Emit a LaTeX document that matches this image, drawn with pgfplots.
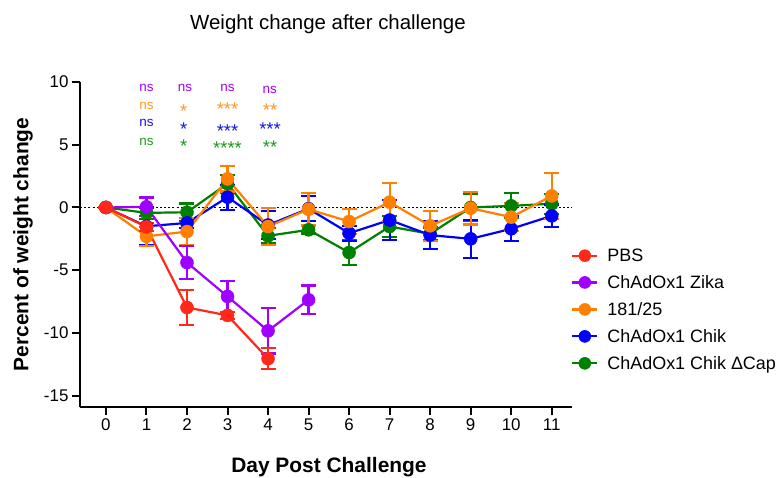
\documentclass[border=0pt]{standalone}
\usepackage{fontspec}
\setmainfont{Liberation Sans}
\usepackage{pgfplots}
\pgfplotsset{compat=1.18}
\usepackage{pgfplotstable}

\definecolor{cPBS}{RGB}{255,40,25}
\definecolor{cZika}{RGB}{160,0,255}
\definecolor{cOrg}{RGB}{255,128,0}
\definecolor{cChik}{RGB}{0,0,255}
\definecolor{cCap}{RGB}{0,128,0}
\definecolor{sOrg}{RGB}{255,150,30}
\definecolor{sGrn}{RGB}{30,150,30}
\definecolor{sBlu}{RGB}{20,20,230}

\pgfplotstableread{
x y e
0 0 0
1 -1.55 0.3
2 -7.97 1.4
3 -8.6 0.3
4 -12.05 0.85
}\pbs
\pgfplotstableread{
x y e
0 0 0
1 0.05 0.75
2 -4.39 1.3
3 -7.09 1.25
4 -9.83 1.8
5 -7.36 1.15
}\zika
\pgfplotstableread{
x y e
0 0 0
1 -2.3 0.75
2 -1.92 1.05
3 2.28 1.0
4 -1.52 1.45
5 -0.14 1.3
6 -1.12 1.0
7 0.42 1.5
8 -1.46 1.2
9 -0.06 1.3
10 -0.77 1.1
11 0.92 1.85
}\org
\pgfplotstableread{
x y e
0 0 0
1 -1.5 1.5
2 -1.23 0.4
3 0.82 1.0
4 -1.4 1.1
5 -0.1 1.0
6 -2.05 0.6
7 -1.0 1.6
8 -2.2 1.1
9 -2.5 1.5
10 -1.7 1.0
11 -0.67 0.9
}\chik
\pgfplotstableread{
x y e
0 0 0
1 -0.43 0.5
2 -0.38 0.7
3 1.9 0.7
4 -2.26 0.6
5 -1.78 0.3
6 -3.59 1.0
7 -1.52 0.85
8 -2.1 0.5
9 0.0 1.1
10 0.13 1.0
11 0.3 0.8
}\cap

\pgfplotsset{
  ser/.style={color=#1, line width=2.2bp, mark=*, mark size=6.5bp,
    mark options={solid, fill=#1, draw=#1, line width=0.5bp},
    error bars/.cd, y dir=both, y explicit,
    error bar style={line width=2.2bp, color=#1, solid},
    error mark options={rotate=90, mark size=7.5bp, line width=2.2bp, color=#1}},
}

\begin{document}
\begin{tikzpicture}
\path[use as bounding box] (-80bp,-71bp) rectangle (701bp,407bp);
\begin{axis}[
  at={(0,0)}, anchor=south west,
  scale only axis, width=492bp, height=325bp,
  xmin=-0.64, xmax=11.5, ymin=-15.9, ymax=10,
  axis x line=bottom, axis y line=left,
  axis line style={-, line width=2.5bp, black},
  xtick={0,...,11}, ytick={-15,-10,-5,0,5,10},
  tick align=outside, major tick length=8bp,
  tick style={black, line width=2bp},
  /pgf/number format/assume math mode=true,
  ticklabel style={font=\fontsize{17}{20}\selectfont},
  title={Weight change after challenge},
  title style={at={(axis description cs:0.504,1.158)}, anchor=center, font=\fontsize{20.5}{24}\selectfont},
  xlabel={Day Post Challenge},
  xlabel style={at={(axis description cs:0.506,-0.186)}, anchor=center, font=\bfseries\fontsize{21}{24}\selectfont},
  ylabel={Percent of weight change},
  ylabel style={at={(axis description cs:-0.116,0.5)}, anchor=center, font=\bfseries\fontsize{21}{24}\selectfont},
  clip=false,
  reverse legend,
  legend style={at={(axis description cs:0.992,0.50)}, anchor=north west, draw=none, fill=none,
    font=\fontsize{18}{21.6}\selectfont, row sep=8.5bp, column sep=0pt},
  legend cell align=left,
  legend image code/.code={
    \draw[mark repeat=2, mark phase=2, mark size=6bp] plot coordinates {(0bp,0bp) (12.5bp,0bp) (25bp,0bp)};
  },
]
\addplot[black, line width=1.8bp, dash pattern=on 2bp off 2.2bp, forget plot] coordinates {(-0.64,0) (11.5,0)};
\addplot[ser=cCap] table[x=x, y=y, y error=e] {\cap};
\addlegendentry{\hspace{7bp}ChAdOx1 Chik ΔCap}
\addplot[ser=cChik] table[x=x, y=y, y error=e] {\chik};
\addlegendentry{\hspace{7bp}ChAdOx1 Chik}
\addplot[ser=cOrg] table[x=x, y=y, y error=e] {\org};
\addlegendentry{\hspace{7bp}181/25}
\addplot[ser=cZika] table[x=x, y=y, y error=e] {\zika};
\addlegendentry{\hspace{7bp}ChAdOx1 Zika}
\addplot[ser=cPBS] table[x=x, y=y, y error=e] {\pbs};
\addlegendentry{\hspace{7bp}PBS}

% significance annotations
\begin{scope}[every node/.style={font=\fontsize{13.5}{16}\selectfont, anchor=center, inner sep=0pt}]
\node[text=cZika] at (axis cs:1,9.52) {ns};
\node[text=cZika] at (axis cs:1.95,9.52) {ns};
\node[text=cZika] at (axis cs:3,9.52) {ns};
\node[text=cZika] at (axis cs:4.04,9.36) {ns};
\node[text=sOrg] at (axis cs:1,8.09) {ns};
\node[text=sBlu] at (axis cs:1,6.76) {ns};
\node[text=sGrn] at (axis cs:1,5.25) {ns};
\end{scope}
\begin{scope}[every node/.style={font=\fontsize{18.5}{20}\selectfont, anchor=center, inner sep=0pt, yshift=-3.3bp}]
\node[text=sOrg] at (axis cs:1.92,7.93) {*};
\node[text=sOrg] at (axis cs:3,8.09) {***};
\node[text=sOrg] at (axis cs:4.05,8.03) {**};
\node[text=sBlu] at (axis cs:1.92,6.52) {*};
\node[text=sBlu] at (axis cs:3,6.34) {***};
\node[text=sBlu] at (axis cs:4.05,6.52) {***};
\node[text=sGrn] at (axis cs:1.92,5.12) {*};
\node[text=sGrn] at (axis cs:3,4.98) {****};
\node[text=sGrn] at (axis cs:4.05,5.06) {**};
\end{scope}
\end{axis}
\end{tikzpicture}
\end{document}
